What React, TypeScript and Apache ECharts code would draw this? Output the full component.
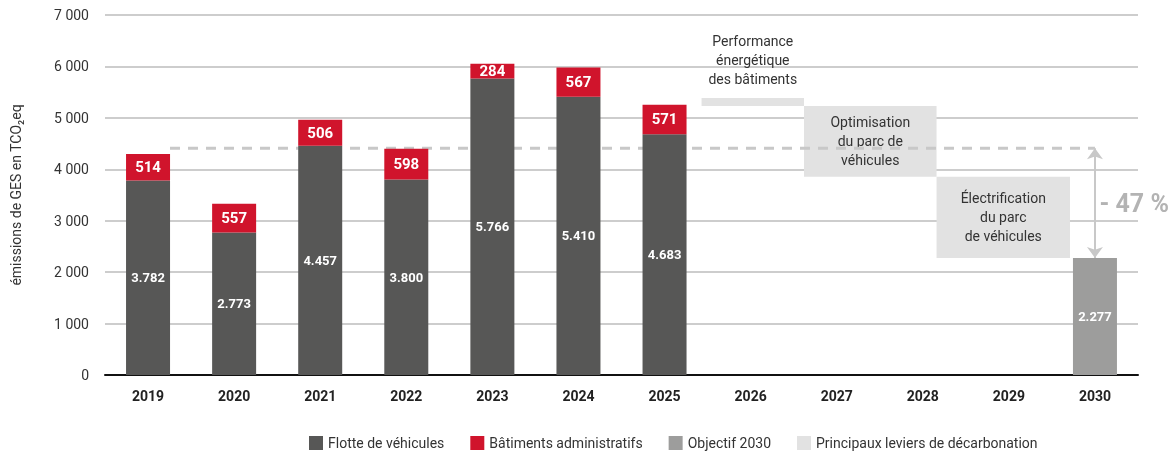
import React, { useEffect, useRef } from "react";
import * as echarts from "echarts";

const years = ["2019", "2020", "2021", "2022", "2023", "2024", "2025", "2026", "2027", "2028", "2029", "2030"];
const fleet = [3782, 2773, 4457, 3800, 5766, 5410, 4683, null, null, null, null, null];
const buildings = [514, 557, 506, 598, 284, 567, 571, null, null, null, null, null];
const objective = [null, null, null, null, null, null, null, null, null, null, null, 2277];

const leverNames = [
  "Performance\nénergétique\ndes bâtiments",
  "Optimisation\ndu parc de\nvéhicules",
  "Électrification\ndu parc\nde véhicules",
];
const leverXStart = [6.93, 8.12, 9.66];
const leverXEnd = [8.12, 9.66, 11.21];
const leverLow = [5230, 3855, 2277];
const leverHigh = [5385, 5230, 3855];
const leverLabelAbove = [true, false, false];

const referenceLevel = 4410;
const referenceFrom = 0.755;
const referenceTo = 11.5;
const reductionLabel = "- 47 %";

const legendNames = ["Flotte de véhicules", "Bâtiments administratifs", "Objectif 2030", "Principaux leviers de décarbonation"];
const colors = ["#575756", "#d0142c", "#9d9d9c", "#e2e2e2"];

const FONT = "Roboto";

const fmtThousandsDot = (v: number) => String(v).replace(/\B(?=(\d{3})+(?!\d))/g, ".");
const fmtThousandsSpace = (v: number) => String(v).replace(/\B(?=(\d{3})+(?!\d))/g, " ");

export default function App() {
  const ref = useRef<HTMLDivElement>(null);
  useEffect(() => {
    if (!ref.current) return;
    const chart = echarts.init(ref.current, undefined, { renderer: "svg" });
    const barLabel = (size: number, weight: string) => ({
      show: true,
      position: "inside",
      color: "#fff",
      fontWeight: weight,
      fontSize: size,
      fontFamily: FONT,
      formatter: (p: any) => fmtThousandsDot(p.value),
    });
    const leverData = leverNames.map((n, i) => [leverXStart[i], leverXEnd[i], leverLow[i], leverHigh[i], i]);
    chart.setOption({
      animation: false,
      textStyle: { fontFamily: FONT },
      grid: { left: 105, right: 36, top: 15, bottom: 77 },
      legend: {
        data: legendNames.map((n) => ({ name: n, icon: "rect" })),
        left: 309,
        top: 436,
        padding: 0,
        itemWidth: 14,
        itemHeight: 14,
        itemGap: 26,
        textStyle: { fontSize: 14, color: "#333", fontFamily: FONT },
        selectedMode: false,
      },
      xAxis: [
        {
          type: "category",
          data: years,
          axisLine: { show: true, lineStyle: { color: "#111", width: 2 } },
          axisTick: { show: false },
          axisLabel: { color: "#222", fontWeight: "bold", fontSize: 14, margin: 14, fontFamily: FONT },
        },
        { type: "value", min: 0, max: years.length, show: false },
      ],
      yAxis: {
        type: "value",
        min: 0,
        max: 7000,
        interval: 1000,
        name: "émissions de GES en TCO₂eq",
        nameLocation: "middle",
        nameGap: 82,
        nameTextStyle: { fontSize: 14, color: "#333", fontFamily: FONT },
        axisLine: { show: false },
        axisTick: { show: false },
        axisLabel: { color: "#333", fontSize: 14, margin: 16, fontFamily: FONT, formatter: (v: number) => fmtThousandsSpace(v) },
        splitLine: { lineStyle: { color: "#bdbdbd", width: 1.5 } },
      },
      series: [
        {
          name: legendNames[3],
          type: "custom",
          xAxisIndex: 1,
          yAxisIndex: 0,
          itemStyle: { color: colors[3] },
          data: leverData,
          renderItem: (params: any, api: any) => {
            const p1 = api.coord([api.value(0), api.value(3)]);
            const p2 = api.coord([api.value(1), api.value(2)]);
            const idx = api.value(4);
            const cx = (p1[0] + p2[0]) / 2;
            const above = leverLabelAbove[idx];
            return {
              type: "group",
              children: [
                {
                  type: "rect",
                  shape: { x: p1[0], y: p1[1], width: p2[0] - p1[0], height: p2[1] - p1[1] },
                  style: { fill: colors[3] },
                },
                {
                  type: "text",
                  style: {
                    text: leverNames[idx],
                    x: cx,
                    y: above ? p1[1] - 10 : (p1[1] + p2[1]) / 2,
                    align: "center",
                    verticalAlign: above ? "bottom" : "middle",
                    fontSize: 14,
                    lineHeight: 19,
                    fontFamily: FONT,
                    fill: "#333",
                  },
                },
              ],
            };
          },
          z: 1,
        },
        {
          name: "reference",
          type: "line",
          xAxisIndex: 1,
          data: [
            [referenceFrom, referenceLevel],
            [referenceTo, referenceLevel],
          ],
          symbol: "none",
          silent: true,
          lineStyle: { color: "#c8c8c8", width: 3, type: [10, 8] },
          z: 2,
        },
        {
          name: legendNames[0],
          type: "bar",
          stack: "total",
          data: fleet,
          barWidth: 44,
          itemStyle: { color: colors[0] },
          label: barLabel(13, "bold"),
          z: 3,
        },
        {
          name: legendNames[1],
          type: "bar",
          stack: "total",
          data: buildings,
          barWidth: 44,
          itemStyle: { color: colors[1] },
          label: barLabel(15, "bold"),
          z: 3,
        },
        {
          name: legendNames[2],
          type: "bar",
          stack: "total",
          data: objective,
          barWidth: 44,
          itemStyle: { color: colors[2] },
          label: barLabel(13, "bold"),
          z: 3,
          markLine: {
            silent: true,
            symbol: ["arrow", "arrow"],
            symbolSize: [12, 11],
            lineStyle: { color: "#c8c8c8", width: 2, type: "solid" },
            label: { show: false },
            data: [
              [
                { coord: [years.length - 1, referenceLevel] },
                { coord: [years.length - 1, objective[years.length - 1]] },
              ],
            ],
          },
          markPoint: {
            silent: true,
            symbol: "circle",
            symbolSize: 1,
            itemStyle: { color: "rgba(0,0,0,0)" },
            label: {
              show: true,
              position: "right",
              distance: 4,
              formatter: reductionLabel,
              fontSize: 25,
              fontWeight: "bold",
              color: "#b3b3b3",
              fontFamily: FONT,
            },
            data: [{ coord: [years.length - 1, (referenceLevel + (objective[years.length - 1] as number)) / 2] }],
          },
        },
      ],
    });
    return () => chart.dispose();
  }, []);
  return <div ref={ref} style={{ position: "fixed", left: 0, top: 0, width: 1174, height: 452 }} />;
}
